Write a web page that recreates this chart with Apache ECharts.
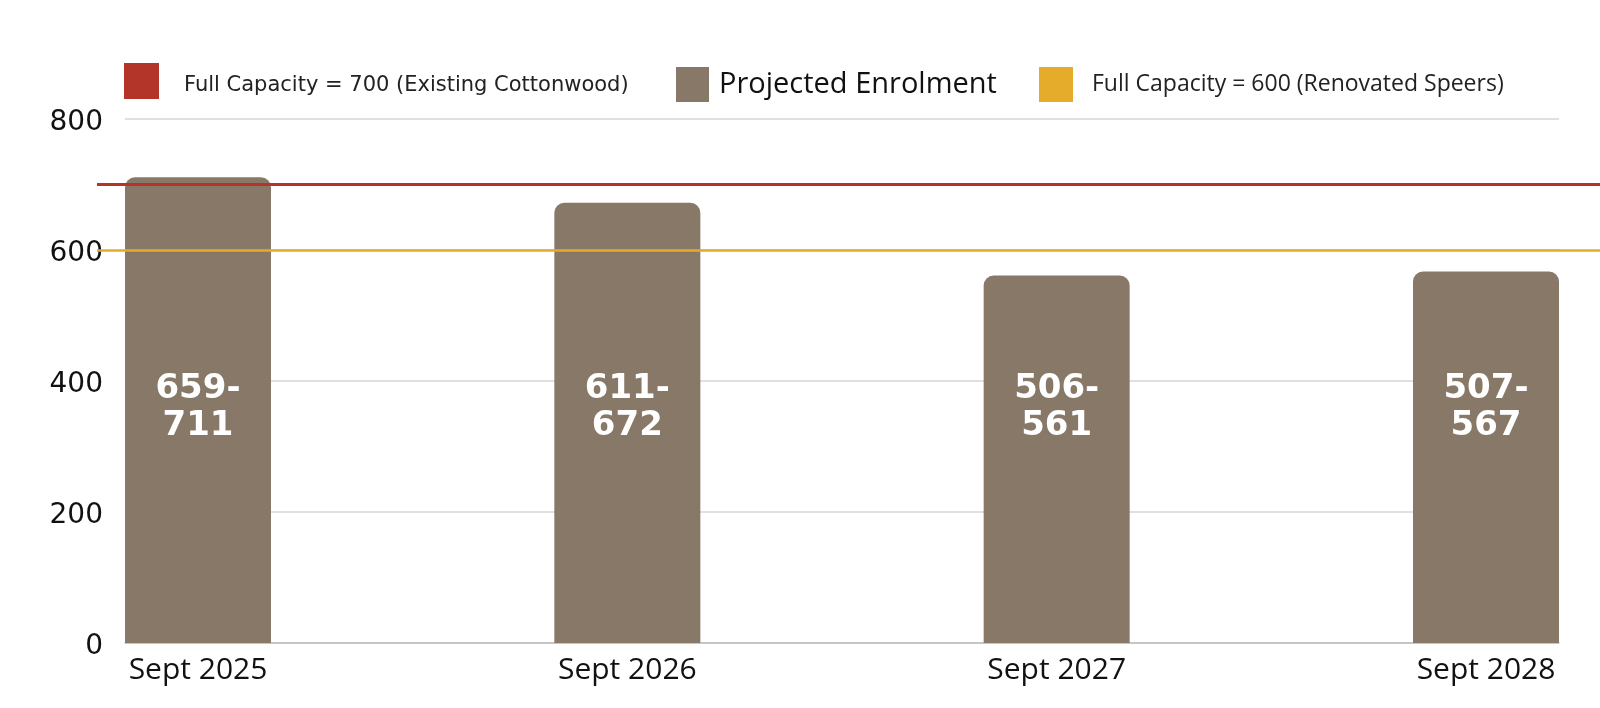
<!DOCTYPE html>
<html>
<head>
<meta charset="utf-8">
<script src="https://cdn.jsdelivr.net/npm/echarts@6/dist/echarts.min.js"></script>
<style>
html,body{margin:0;padding:0;background:#fff;}
#main{width:1600px;height:708px;}
</style>
</head>
<body>
<div id="main"></div>
<script>
var years = ["Sept 2025","Sept 2026","Sept 2027","Sept 2028"];
var lowVals = [659,611,506,507];
var highVals = [711,672,561,567];
var capCottonwood = 700;
var capSpeers = 600;
var yTicks = [0,200,400,600,800];

var nameRed = "Full Capacity = 700 (Existing Cottonwood)";
var nameBar = "Projected Enrolment";
var nameYel = "Full Capacity = 600 (Renovated Speers)";

function draw(){
	var chart = echarts.init(document.getElementById('main'));
	var barData = [];
	for(var i=0;i<years.length;i++){
		barData.push({value:highVals[i], low:lowVals[i]});
	}
	var empty = years.map(function(){return null;});

	var option = {
		animation:false,
		legend:[
			{left:124, top:63, padding:0, icon:'rect', itemWidth:35, itemHeight:36, data:[nameRed],
				formatter:'{a|{name}}',
				textStyle:{padding:[0,0,0,20], rich:{a:{fontFamily:'DejaVu Sans', fontSize:21, color:'#222', lineHeight:21, padding:[9,0,0,0]}}}},
			{left:676, top:67, padding:0, icon:'rect', itemWidth:33, itemHeight:35, data:[nameBar],
				textStyle:{fontFamily:'Open Sans', fontSize:29, color:'#111', padding:[0,0,0,5]}},
			{left:1039, top:67, padding:0, icon:'rect', itemWidth:34, itemHeight:35, data:[nameYel],
				textStyle:{fontFamily:'Open Sans', fontSize:23, color:'#222', padding:[0,0,0,14]}}
		],
		grid:[
			{left:125, right:41, top:119, bottom:65},   // gridlines + y labels
			{left:198, right:114, top:119, bottom:65},  // bars
			{left:97, right:0, top:119, bottom:65}      // capacity lines
		],
		xAxis:[
			{gridIndex:0, type:'category', data:years, axisLabel:{show:false}, axisTick:{show:false},
				axisLine:{lineStyle:{color:'#bdbdbd', width:1.5}}},
			{gridIndex:1, type:'category', data:years, boundaryGap:false,
				axisLine:{show:false}, axisTick:{show:false},
				axisLabel:{margin:12, fontFamily:'Open Sans', fontSize:30, color:'#111'}},
			{gridIndex:2, type:'category', data:years, show:false}
		],
		yAxis:[
			{gridIndex:0, type:'value', min:yTicks[0], max:yTicks[yTicks.length-1], interval:200,
				axisLine:{show:false}, axisTick:{show:false},
				axisLabel:{margin:22, fontFamily:'DejaVu Sans', fontSize:28, color:'#111',
					verticalAlign:'top', lineHeight:8},
				splitLine:{lineStyle:{color:'#d6d6d6', width:1.5}}},
			{gridIndex:1, type:'value', min:0, max:800, show:false},
			{gridIndex:2, type:'value', min:0, max:800, show:false}
		],
		series:[
			{
				name:nameBar, type:'bar', xAxisIndex:1, yAxisIndex:1, barWidth:146,
				itemStyle:{color:'#887868', borderRadius:[10,10,0,0]},
				label:{show:true, position:'insideBottom', distance:198,
					fontFamily:'DejaVu Sans', fontWeight:'bold', fontSize:34, lineHeight:37, color:'#fff',
					formatter:function(p){return p.data.low+'-\n'+p.data.value;}},
				data:barData
			},
			{
				name:nameRed, type:'line', xAxisIndex:2, yAxisIndex:2, z:5, data:empty,
				itemStyle:{color:'#B3352A'}, lineStyle:{color:'#B3352A'}, symbol:'none',
				markLine:{silent:true, symbol:'none', label:{show:false},
					lineStyle:{color:'#B3352A', width:3, type:'solid'}, data:[{yAxis:capCottonwood}]}
			},
			{
				name:nameYel, type:'line', xAxisIndex:2, yAxisIndex:2, z:5, data:empty,
				itemStyle:{color:'#E4AC2A'}, lineStyle:{color:'#E4AC2A'}, symbol:'none',
				markLine:{silent:true, symbol:'none', label:{show:false},
					lineStyle:{color:'#E4AC2A', width:2.5, type:'solid'}, data:[{yAxis:capSpeers}]}
			}
		]
	};
	chart.setOption(option);
}
draw();
</script>
</body>
</html>
